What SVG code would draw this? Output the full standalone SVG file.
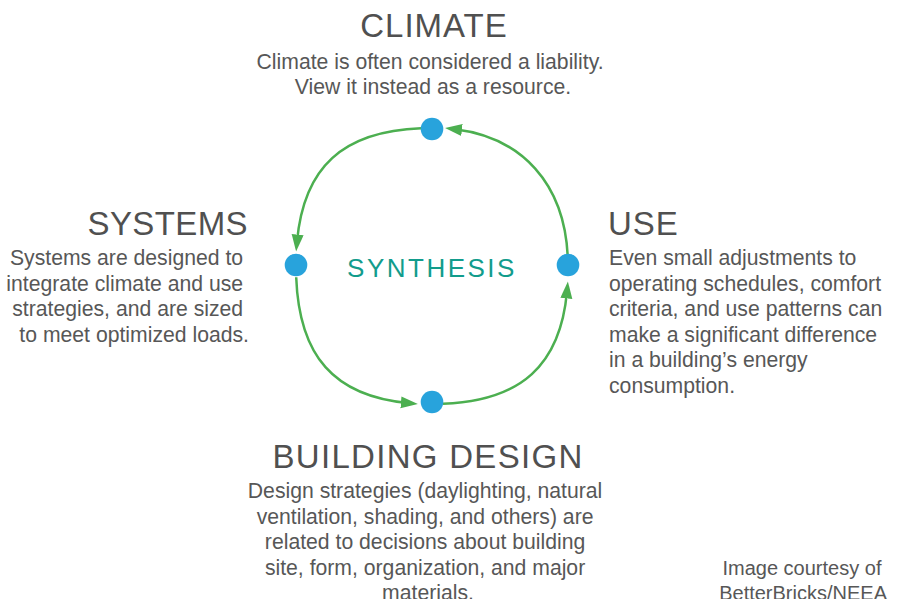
<svg xmlns="http://www.w3.org/2000/svg" width="905" height="599" viewBox="0 0 905 599">
  <style>
    .head { font-family: "Liberation Sans", Arial, sans-serif; font-size: 33px; fill: #505050; letter-spacing: 1px; }
    .body { font-family: "Liberation Sans", Arial, sans-serif; font-size: 21.2px; fill: #575757; }
    .hub { font-family: "Liberation Sans", Arial, sans-serif; font-size: 26px; fill: #129c8c; letter-spacing: 2.5px; }
    .dot { fill: #28a3dc; }
    .arc { fill: none; stroke: #4caf50; stroke-width: 2.5; }
  </style>
  <defs>
    <marker id="arrow" markerUnits="userSpaceOnUse" markerWidth="18" markerHeight="14" refX="7" refY="6" orient="auto">
      <path d="M0,0 L17,6 L0,12 Z" fill="#4caf50"/>
    </marker>
  </defs>
  <rect width="905" height="599" fill="#ffffff"/>

  <!-- cycle arcs -->
  <g id="connectors">
    <path class="arc" marker-end="url(#arrow)" d="M567.7 255.9 C564.2 183.8 522.1 137.3 455 129.2"/>
    <path class="arc" marker-end="url(#arrow)" d="M421 128.2 C342.8 131.2 303.7 167 297 241.6"/>
    <path class="arc" marker-end="url(#arrow)" d="M296.2 277.2 C299.1 356.2 334.2 396.2 407.9 403"/>
    <path class="arc" marker-end="url(#arrow)" d="M443 403.8 C521.2 400.8 560.4 365 567 291.4"/>
  </g>

  <g id="synthesis">
    <text class="hub" x="432" y="277" text-anchor="middle">SYNTHESIS</text>
  </g>

  <g id="climate">
    <circle class="dot" cx="432" cy="129" r="11.3"/>
    <text class="head" x="434" y="37" text-anchor="middle">CLIMATE</text>
    <text class="body" text-anchor="middle">
      <tspan x="433" y="69">Climate is often considered a liability.</tspan>
      <tspan x="433" y="94">View it instead as a resource.</tspan>
    </text>
  </g>

  <g id="systems">
    <circle class="dot" cx="296" cy="265" r="11.3"/>
    <text class="head" x="248" y="235" text-anchor="end" style="letter-spacing:0.4px">SYSTEMS</text>
    <text class="body" text-anchor="end">
      <tspan x="249" y="265">Systems are designed to</tspan>
      <tspan x="249" y="290.5">integrate climate and use</tspan>
      <tspan x="249" y="316">strategies, and are sized</tspan>
      <tspan x="249" y="341.5">to meet optimized loads.</tspan>
    </text>
  </g>

  <g id="use">
    <circle class="dot" cx="568" cy="265" r="11.3"/>
    <text class="head" x="608" y="235">USE</text>
    <text class="body">
      <tspan x="609" y="265">Even small adjustments to</tspan>
      <tspan x="609" y="290.5">operating schedules, comfort</tspan>
      <tspan x="609" y="316">criteria, and use patterns can</tspan>
      <tspan x="609" y="341.5">make a significant difference</tspan>
      <tspan x="609" y="367">in a building’s energy</tspan>
      <tspan x="609" y="392.5">consumption.</tspan>
    </text>
  </g>

  <g id="building-design">
    <circle class="dot" cx="432" cy="402" r="11.3"/>
    <text class="head" x="428" y="468" text-anchor="middle" style="letter-spacing:1.3px">BUILDING DESIGN</text>
    <text class="body" text-anchor="middle">
      <tspan x="428" y="498">Design strategies (daylighting, natural</tspan>
      <tspan x="428" y="523.5">ventilation, shading, and others) are</tspan>
      <tspan x="428" y="549">related to decisions about building</tspan>
      <tspan x="428" y="574.5">site, form, organization, and major</tspan>
      <tspan x="428" y="600">materials.</tspan>
    </text>
  </g>

  <g id="credit">
    <text class="body" text-anchor="end" style="font-size:20px">
      <tspan x="887" y="575">Image courtesy of</tspan>
      <tspan x="887" y="600">BetterBricks/NEEA</tspan>
    </text>
  </g>
</svg>
